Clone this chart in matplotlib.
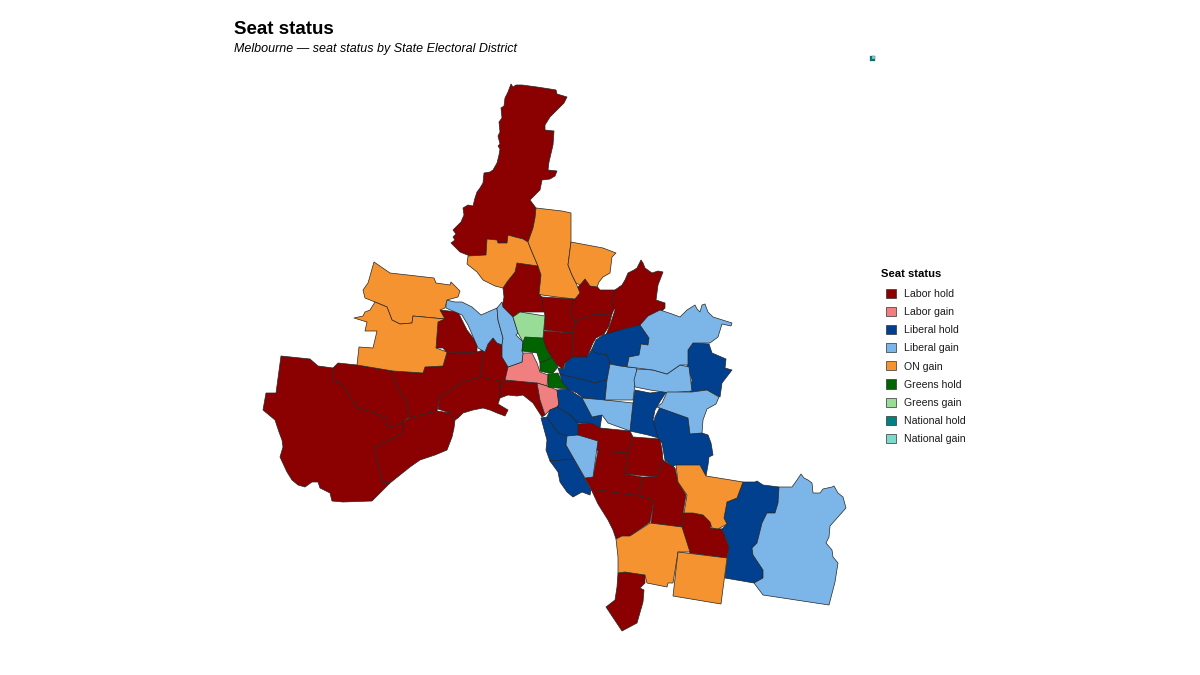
import matplotlib
matplotlib.use('Agg')
import matplotlib.pyplot as plt
from matplotlib.patches import Patch, Polygon

plt.rcParams['font.family'] = ['Liberation Sans', 'DejaVu Sans']

status_names = ['Labor hold', 'Labor gain', 'Liberal hold', 'Liberal gain', 'ON gain',
                'Greens hold', 'Greens gain', 'National hold', 'National gain']
status_colours = ['#8B0000', '#F08080', '#00408F', '#7CB5E8', '#F59331',
                  '#006400', '#98DC98', '#008080', '#7FD8CC']

# district outlines, in map units
labor_hold = [
    [(511,84),(513,87),(516,85),(522,85),(537,87),(550,89),(556,90),(557,94),(567,97),(564,103),(557,110),(550,117),(545,125),(545,130),(554,131),(553,145),(549,162),(548,170),(557,171),(555,176),(550,179),(542,180),(540,190),(530,200),(536,208),(535,218),(533,228),(528,242),(523,239),(515,237),(508,235),(507,243),(498,243),(497,240),(487,239),(486,255),(470,256),(460,252),(451,243),(455,240),(453,237),(456,234),(453,230),(457,226),(461,222),(464,215),(463,208),(468,205),(473,206),(475,198),(477,192),(480,188),(483,183),(484,173),(490,172),(493,170),(497,163),(499,155),(500,149),(498,146),(500,144),(498,136),(500,132),(499,122),(502,118),(501,108),(504,106),(505,98),(508,92)],
    [(517,263),(538,266),(541,275),(539,294),(542,297),(545,312),(527,312),(520,312),(513,317),(502,308),(504,297),(503,288),(507,282),(515,272)],
    [(542,297),(575,299),(570,312),(575,321),(573,333),(544,330),(545,316),(543,305)],
    [(544,331),(573,333),(572,353),(573,357),(565,363),(563,369),(557,365),(552,358),(546,348),(543,338)],
    [(575,290),(580,285),(585,279),(590,283),(595,284),(600,290),(617,290),(612,302),(615,307),(612,314),(592,315),(575,321),(570,312),(574,300)],
    [(575,321),(592,315),(612,314),(609,326),(604,334),(596,338),(593,343),(590,350),(587,357),(573,357),(572,353),(573,333)],
    [(612,302),(615,290),(622,285),(625,280),(628,273),(634,270),(637,268),(641,260),(643,263),(645,268),(652,273),(658,271),(663,272),(658,285),(656,300),(665,303),(665,308),(655,318),(650,322),(640,325),(620,330),(612,337),(606,335),(610,325),(615,310)],
    [(505,380),(537,383),(540,400),(545,415),(542,417),(533,403),(523,395),(517,396),(508,395),(500,398),(500,387)],
    [(281,356),(310,359),(318,366),(333,368),(332,381),(340,383),(345,388),(350,397),(358,408),(372,412),(387,418),(388,428),(403,422),(403,433),(375,447),(378,463),(382,482),(390,483),(372,501),(343,502),(332,501),(330,493),(320,488),(318,482),(312,482),(305,487),(298,485),(292,480),(287,472),(280,457),(283,447),(282,440),(279,432),(275,420),(263,410),(266,393),(276,393)],
    [(333,368),(338,363),(357,365),(393,371),(395,382),(401,393),(407,403),(409,417),(403,422),(388,428),(387,418),(372,412),(358,408),(350,397),(345,388),(340,383),(332,381)],
    [(393,371),(423,373),(425,367),(443,366),(447,353),(477,352),(483,350),(481,377),(463,382),(440,397),(437,411),(409,418),(407,403),(401,393),(395,382)],
    [(440,310),(458,312),(467,330),(477,343),(477,352),(447,353),(443,348),(436,348),(438,322)],
    [(483,350),(485,352),(488,344),(493,338),(497,343),(502,345),(502,357),(510,364),(505,380),(500,387),(481,377)],
    [(481,377),(500,381),(500,387),(500,398),(498,404),(508,410),(505,416),(497,413),(490,410),(483,408),(473,410),(463,413),(458,418),(455,420),(450,413),(438,409),(440,397),(463,382)],
    [(403,422),(409,418),(437,411),(450,413),(455,420),(454,428),(452,437),(447,450),(435,455),(420,460),(410,467),(390,483),(382,482),(378,463),(375,447),(403,433)],
    [(578,424),(589,423),(594,424),(600,428),(630,431),(633,437),(628,453),(598,451),(577,435)],
    [(633,437),(660,439),(662,450),(663,460),(657,477),(625,474),(628,453)],
    [(598,451),(628,453),(625,474),(642,477),(639,496),(591,489),(585,478),(593,477)],
    [(663,460),(675,468),(678,482),(686,495),(683,513),(682,527),(651,523),(654,500),(639,496),(642,477),(657,477)],
    [(591,489),(639,496),(654,500),(650,522),(630,536),(622,536),(616,539),(613,530),(608,520),(603,512),(598,504)],
    [(618,573),(625,572),(645,575),(645,583),(640,588),(644,590),(643,602),(637,623),(622,631),(606,607),(615,600),(617,587)],
    [(683,513),(693,513),(703,515),(712,523),(710,528),(722,529),(729,547),(727,558),(690,553),(682,527)],
]
labor_gain = [
    [(508,367),(522,362),(523,353),(532,353),(537,363),(540,372),(548,375),(547,386),(537,383),(505,380)],
    [(537,383),(547,386),(557,390),(559,407),(550,410),(545,415),(540,400)],
]
liberal_hold = [
    [(592,349),(596,340),(603,335),(620,330),(640,325),(649,338),(648,345),(641,344),(639,355),(629,357),(627,367),(620,366),(610,364),(607,355),(595,353)],
    [(558,368),(564,369),(566,362),(573,357),(587,357),(592,349),(595,353),(607,355),(610,364),(607,380),(595,383),(585,380),(567,376),(560,374)],
    [(560,374),(567,376),(585,380),(595,383),(607,380),(605,400),(583,398),(577,393),(568,389),(562,382)],
    [(557,390),(568,389),(582,398),(592,417),(602,415),(600,428),(594,424),(589,423),(578,423),(570,415),(557,407),(559,404)],
    [(547,417),(550,410),(557,407),(570,415),(578,423),(578,435),(567,436),(558,433)],
    [(541,418),(547,417),(558,433),(567,436),(566,445),(574,459),(558,461),(550,461),(546,450),(547,440)],
    [(550,461),(574,459),(591,490),(590,495),(582,492),(573,497),(567,492),(560,482),(558,472)],
    [(635,390),(650,393),(667,391),(661,400),(655,410),(653,420),(662,430),(662,439),(648,435),(630,431),(633,403)],
    [(693,343),(709,344),(712,353),(726,359),(725,368),(732,370),(722,383),(720,397),(707,390),(690,392),(692,380),(687,365),(688,350)],
    [(655,417),(660,407),(688,418),(690,433),(702,433),(708,435),(711,443),(713,455),(709,457),(708,465),(706,476),(700,467),(675,465),(673,467),(665,460),(662,443),(658,438),(654,423)],
    [(743,482),(755,482),(757,481),(763,485),(779,487),(778,503),(775,513),(767,513),(762,523),(757,543),(752,548),(753,555),(763,570),(763,578),(754,583),(725,578),(729,546),(722,529),(727,524),(724,518),(727,502),(737,498)],
]
liberal_gain = [
    [(446,300),(455,302),(462,302),(472,307),(481,315),(497,308),(498,320),(503,338),(502,345),(497,343),(493,338),(488,344),(485,352),(478,348),(468,325),(462,315),(446,308)],
    [(497,308),(502,302),(503,307),(513,317),(518,333),(516,335),(523,342),(522,351),(523,353),(522,362),(508,367),(502,357),(502,345),(503,338),(498,320)],
    [(567,436),(578,435),(598,441),(593,477),(585,478),(574,459),(566,445)],
    [(582,398),(605,400),(633,403),(630,431),(608,423),(602,415),(592,417)],
    [(610,364),(620,366),(637,368),(633,400),(605,400),(607,380)],
    [(637,369),(653,370),(667,374),(680,365),(689,367),(692,391),(670,393),(650,390),(635,387),(634,380)],
    [(640,325),(648,316),(660,310),(672,314),(680,317),(687,310),(695,305),(697,309),(700,312),(702,305),(705,304),(708,312),(713,317),(732,323),(731,326),(722,324),(718,337),(710,343),(693,343),(688,350),(688,365),(680,365),(667,374),(653,370),(637,368),(629,367),(627,367),(629,357),(639,355),(641,344),(648,345),(649,338)],
    [(667,392),(692,392),(707,390),(719,397),(716,404),(707,409),(703,420),(702,433),(690,434),(688,418),(657,407),(662,403)],
    [(779,487),(792,487),(797,480),(801,474),(804,478),(808,480),(812,483),(813,493),(820,493),(823,489),(832,487),(834,486),(838,493),(843,497),(846,508),(838,517),(830,526),(829,537),(826,543),(832,550),(833,557),(838,563),(835,582),(829,605),(763,595),(754,583),(763,578),(763,570),(753,555),(752,548),(757,543),(762,523),(767,513),(775,513),(778,503)],
]
on_gain = [
    [(487,239),(497,240),(498,243),(507,243),(508,235),(515,237),(523,239),(528,242),(532,252),(538,266),(517,263),(515,272),(507,282),(503,288),(495,286),(483,280),(477,272),(467,264),(468,256),(486,255)],
    [(536,208),(562,211),(571,213),(571,242),(568,265),(572,275),(576,283),(580,293),(575,299),(557,297),(542,295),(539,294),(541,275),(538,266),(532,252),(528,242),(533,228),(535,218)],
    [(571,242),(603,248),(616,253),(612,257),(610,273),(603,277),(599,282),(597,287),(590,286),(585,279),(580,285),(576,283),(572,275),(568,265)],
    [(374,262),(390,273),(434,278),(436,283),(450,285),(451,282),(460,291),(458,297),(447,300),(445,308),(440,310),(445,319),(413,316),(412,323),(400,324),(392,320),(387,307),(375,302),(365,298),(363,290),(368,283)],
    [(375,302),(387,307),(392,320),(400,324),(412,323),(413,316),(445,319),(438,322),(436,348),(447,352),(443,366),(425,367),(423,373),(393,371),(357,365),(359,347),(373,348),(377,331),(365,331),(367,322),(354,318),(363,316),(365,312),(370,310)],
    [(616,539),(622,536),(630,536),(650,523),(682,527),(690,552),(678,552),(673,583),(668,583),(667,587),(647,583),(645,575),(625,572),(618,573),(618,557)],
    [(678,552),(727,558),(721,604),(673,596)],
    [(676,465),(700,465),(706,476),(743,482),(737,498),(727,502),(724,518),(727,524),(718,529),(712,528),(710,522),(703,515),(693,513),(684,513),(687,495),(678,482)],
]
greens_hold = [
    [(525,337),(543,338),(546,348),(552,358),(540,363),(537,353),(522,351),(523,342)],
    [(552,358),(558,367),(553,373),(548,373),(540,371),(540,363)],
    [(548,374),(558,373),(562,382),(568,389),(557,388),(548,387)],
]
greens_gain = [
    [(513,317),(520,312),(545,316),(543,338),(525,337),(523,342),(518,333)],
]
national_hold = [
    [(870,56),(875,56),(875,61),(870,61)],
]
national_gain = [
    [(872,56),(875,56),(875,59),(872,59)],
]
seats = [labor_hold, labor_gain, liberal_hold, liberal_gain, on_gain,
         greens_hold, greens_gain, national_hold, national_gain]

fig = plt.figure(figsize=(12, 6.75), dpi=100)
ax = fig.add_axes([0, 0, 1, 1])
ax.set_xlim(0, 1200)
ax.set_ylim(675, 0)
ax.axis('off')

for districts, colour in zip(seats, status_colours):
    for outline in districts:
        # the two tiny island seats would go black with a normal outline
        lw = 0.15 if districts is national_hold or districts is national_gain else 0.5
        ax.add_patch(Polygon(outline, closed=True, facecolor=colour,
                             edgecolor='#262626', linewidth=lw, joinstyle='round'))

fig.text(234/1200, 1 - 29/675, 'Seat status', fontsize=13.5, fontweight='bold', va='center')
fig.text(234/1200, 1 - 49/675, 'Melbourne \u2014 seat status by State Electoral District',
         fontsize=9, style='italic', va='center')
fig.text(881/1200, 1 - 274/675, 'Seat status', fontsize=8.1, fontweight='bold', va='center')

handles = [Patch(facecolor=c, edgecolor='#333333', linewidth=0.5) for c in status_colours]
leg = fig.legend(handles, status_names, loc='upper left', bbox_to_anchor=(886/1200, 1 - 289/675),
                 bbox_transform=fig.transFigure, frameon=False, fontsize=7.6,
                 handlelength=0.95, handleheight=0.95, handletextpad=0.75, labelspacing=0.75,
                 borderpad=0, borderaxespad=0, labelcolor='#1a1a1a')
fig.savefig('out.png', dpi=100)
